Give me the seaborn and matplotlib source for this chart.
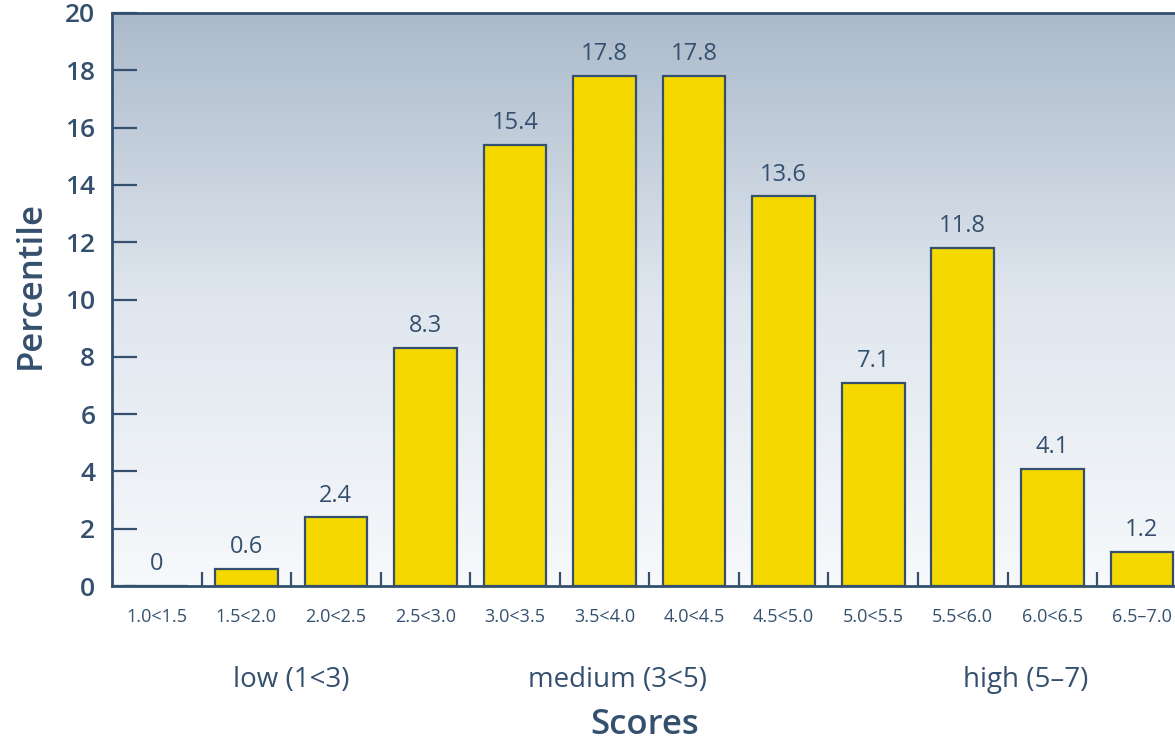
import numpy as np
import pandas as pd
import matplotlib
matplotlib.use('Agg')
import matplotlib.pyplot as plt
import matplotlib.transforms as mtransforms
from matplotlib.colors import LinearSegmentedColormap
import seaborn as sns

# data
categories = ['1.0<1.5', '1.5<2.0', '2.0<2.5', '2.5<3.0', '3.0<3.5', '3.5<4.0',
              '4.0<4.5', '4.5<5.0', '5.0<5.5', '5.5<6.0', '6.0<6.5', '6.5\u20137.0']
percentile = [0, 0.6, 2.4, 8.3, 15.4, 17.8, 17.8, 13.6, 7.1, 11.8, 4.1, 1.2]
group_labels = ['low (1<3)', 'medium (3<5)', 'high (5\u20137)']
group_pos = [1.5, 5.15, 9.7]

sns.set_theme(style='white')
plt.rcParams['font.family'] = ['Open Sans', 'DejaVu Sans']

navy = '#34506e'
yellow = '#f5d800'

df = pd.DataFrame({'score': categories, 'pct': percentile})

fig = plt.figure(figsize=(11.75, 7.42), dpi=100)
ax = fig.add_axes([0.0953, 0.2102, 0.9047, 0.7723])

# gradient background
bg = LinearSegmentedColormap.from_list('bg', ['#f7f9fb', '#dfe6ee', '#abbacb'])
grad = np.linspace(0, 1, 256).reshape(-1, 1)
ax.imshow(grad, extent=[0, 1, 0, 1], transform=ax.transAxes, aspect='auto',
          cmap=bg, origin='lower', zorder=0)

sns.barplot(data=df, x='score', y='pct', order=categories, color=yellow,
            saturation=1, width=0.7, edgecolor=navy, linewidth=1.6, ax=ax, zorder=2)

for i, v in enumerate(percentile):
    ax.annotate(f'{v:g}', (i, v), xytext=(0, 7), textcoords='offset points',
                ha='center', va='bottom', fontsize=17, color=navy)

ax.set_xlim(-0.5, 11.37)
ax.set_ylim(0, 20)
ax.set_yticks(range(0, 21, 2))
ax.set_xticks(range(len(categories)))
ax.set_xticklabels(categories)
ax.set_xticks(np.arange(0.5, 11, 1), minor=True)

ax.tick_params(axis='y', direction='in', length=18, width=1.6, color=navy,
               labelsize=19, labelcolor=navy, pad=12, left=True)
for t in ax.get_yticklabels():
    t.set_fontweight('semibold')
ax.tick_params(axis='x', which='major', length=0, pad=16, labelsize=13, labelcolor=navy)
ax.tick_params(axis='x', which='minor', direction='in', length=10, width=1.6,
               color=navy, bottom=True)

for side in ['left', 'bottom', 'top']:
    ax.spines[side].set_color(navy)
    ax.spines[side].set_linewidth(2)
ax.spines['right'].set_visible(False)

ax.set_ylabel('Percentile', fontsize=25, fontweight='semibold', color=navy)
ax.yaxis.set_label_coords(-0.060, 0.525)
ax.set_xlabel('Scores', fontsize=25, fontweight='semibold', color=navy)
ax.xaxis.set_label_coords(0.501, -0.212)

trans = mtransforms.blended_transform_factory(ax.transData, ax.transAxes)
for lab, pos in zip(group_labels, group_pos):
    ax.text(pos, -0.164, lab, transform=trans, ha='center', va='center',
            fontsize=20, color=navy)

fig.savefig('out.png', dpi=100)
